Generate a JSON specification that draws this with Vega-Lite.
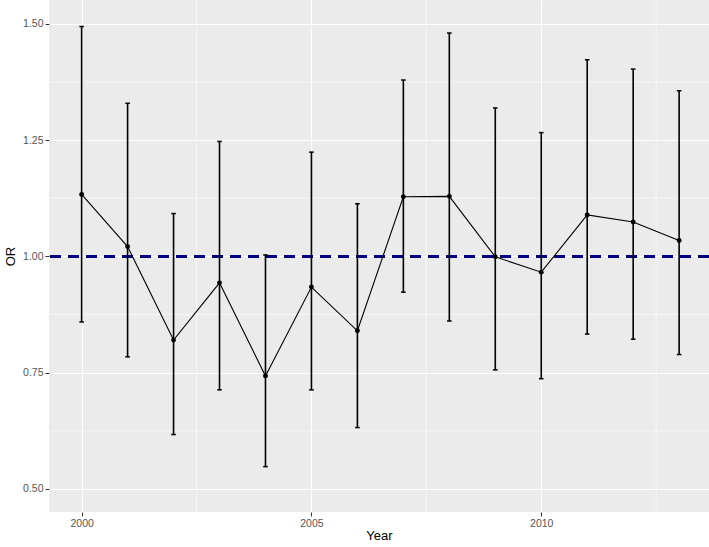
{
  "$schema": "https://vega.github.io/schema/vega-lite/v6.json",
  "autosize": "none",
  "width": 660,
  "height": 512,
  "padding": {"left": 49, "top": 0, "right": 0, "bottom": 35},
  "background": "white",
  "config": {
    "view": {"fill": "#EBEBEB", "stroke": null},
    "font": "Liberation Sans"
  },
  "datasets": {
    "or": [
      {"Year": 2000, "OR": 1.133, "lo": 0.859, "hi": 1.494},
      {"Year": 2001, "OR": 1.021, "lo": 0.784, "hi": 1.329},
      {"Year": 2002, "OR": 0.820, "lo": 0.617, "hi": 1.092},
      {"Year": 2003, "OR": 0.943, "lo": 0.713, "hi": 1.247},
      {"Year": 2004, "OR": 0.743, "lo": 0.548, "hi": 1.003},
      {"Year": 2005, "OR": 0.934, "lo": 0.713, "hi": 1.224},
      {"Year": 2006, "OR": 0.840, "lo": 0.632, "hi": 1.113},
      {"Year": 2007, "OR": 1.128, "lo": 0.923, "hi": 1.379},
      {"Year": 2008, "OR": 1.129, "lo": 0.861, "hi": 1.480},
      {"Year": 2009, "OR": 0.999, "lo": 0.756, "hi": 1.319},
      {"Year": 2010, "OR": 0.966, "lo": 0.737, "hi": 1.266},
      {"Year": 2011, "OR": 1.089, "lo": 0.833, "hi": 1.4225},
      {"Year": 2012, "OR": 1.074, "lo": 0.822, "hi": 1.4025},
      {"Year": 2013, "OR": 1.034, "lo": 0.789, "hi": 1.356}
    ],
    "minorx": [{"gx": 2002.5}, {"gx": 2007.5}, {"gx": 2012.5}],
    "minory": [{"gy": 0.625}, {"gy": 0.875}, {"gy": 1.125}, {"gy": 1.375}]
  },
  "encoding": {
    "x": {
      "field": "Year", "type": "quantitative",
      "scale": {"domain": [1999.29, 2013.65], "nice": false, "zero": false},
      "axis": {
        "values": [2000, 2005, 2010], "format": "d", "title": "Year",
        "grid": true, "gridColor": "white", "gridWidth": 1.1,
        "domain": false, "tickColor": "#333333", "tickSize": 4, "tickWidth": 1,
        "labelFontSize": 10.5, "labelColor": "#555555", "labelPadding": 2,
        "titleFontSize": 13, "titleFontWeight": "normal", "titleColor": "black", "titlePadding": 1
      }
    },
    "y": {
      "type": "quantitative",
      "scale": {"domain": [0.4505, 1.551], "nice": false, "zero": false},
      "axis": {
        "values": [0.5, 0.75, 1, 1.25, 1.5], "format": ".2f", "title": "OR",
        "grid": true, "gridColor": "white", "gridWidth": 1.1,
        "domain": false, "tickColor": "#333333", "tickSize": 4, "tickWidth": 1,
        "labelFontSize": 10.5, "labelColor": "#555555", "labelPadding": 2,
        "titleFontSize": 13, "titleFontWeight": "normal", "titleColor": "black", "titlePadding": 5
      }
    }
  },
  "layer": [
    {
      "data": {"name": "minorx"},
      "mark": {"type": "rule", "stroke": "white", "strokeWidth": 0.6},
      "encoding": {"x": {"field": "gx", "type": "quantitative"}, "y": null}
    },
    {
      "data": {"name": "minory"},
      "mark": {"type": "rule", "stroke": "white", "strokeWidth": 0.6},
      "encoding": {"y": {"field": "gy", "type": "quantitative"}, "x": null}
    },
    {
      "data": {"name": "or"},
      "mark": {"type": "rule", "stroke": "#000080", "strokeWidth": 2.8, "strokeDash": [11, 7]},
      "encoding": {"y": {"datum": 1}, "x": null}
    },
    {
      "data": {"name": "or"},
      "mark": {"type": "line", "stroke": "black", "strokeWidth": 1.1},
      "encoding": {"y": {"field": "OR"}}
    },
    {
      "data": {"name": "or"},
      "mark": {"type": "rule", "stroke": "black", "strokeWidth": 1.6},
      "encoding": {"y": {"field": "lo"}, "y2": {"field": "hi"}}
    },
    {
      "data": {"name": "or"},
      "mark": {"type": "tick", "orient": "horizontal", "color": "black", "size": 4.6, "thickness": 1.5, "opacity": 1},
      "encoding": {"y": {"field": "lo"}}
    },
    {
      "data": {"name": "or"},
      "mark": {"type": "tick", "orient": "horizontal", "color": "black", "size": 4.6, "thickness": 1.5, "opacity": 1},
      "encoding": {"y": {"field": "hi"}}
    },
    {
      "data": {"name": "or"},
      "mark": {"type": "point", "filled": true, "color": "black", "size": 24, "opacity": 1},
      "encoding": {"y": {"field": "OR"}}
    }
  ]
}
